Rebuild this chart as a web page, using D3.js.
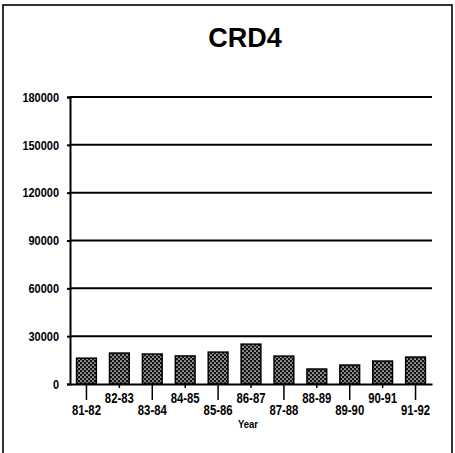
<!DOCTYPE html>
<html><head><meta charset="utf-8">
<script src="https://cdn.jsdelivr.net/npm/d3@7/dist/d3.min.js"></script>
<style>html,body{margin:0;padding:0;background:#fff;}svg{display:block;}</style>
</head><body>
<script>
const title = "CRD4";
const years = ["81-82","82-83","83-84","84-85","85-86","86-87","87-88","88-89","89-90","90-91","91-92"];
const values = [16200,19400,18800,17600,20000,25000,17500,9400,11900,14400,16900];
const yTicks = [0,30000,60000,90000,120000,150000,180000];
const xTitle = "Year";

const W = 455, H = 453;
const svg = d3.select("body").append("svg").attr("width", W).attr("height", H);

const defs = svg.append("defs");
const pat = defs.append("pattern").attr("id","dots").attr("patternUnits","userSpaceOnUse")
  .attr("width",4).attr("height",4);
pat.append("rect").attr("width",4).attr("height",4).attr("fill","#111");
pat.append("circle").attr("cx",1).attr("cy",1).attr("r",0.85).attr("fill","#fff");
pat.append("circle").attr("cx",3).attr("cy",3).attr("r",0.85).attr("fill","#fff");

// outer frame
svg.append("rect").attr("x",3).attr("y",5).attr("width",449).attr("height",470)
  .attr("fill","none").attr("stroke","#000").attr("stroke-width",1.6);

const sans = "'Liberation Sans', Arial, sans-serif";

svg.append("text").attr("x",245).attr("y",47).attr("text-anchor","middle")
  .attr("font-family",sans).attr("font-weight","bold")
  .attr("font-size",27).text(title);

const x0 = 70, x1 = 432, yB = 384, yT = 97;
const x = d3.scaleBand().domain(years).range([x0, x1]).paddingInner(0.4).paddingOuter(0.2);
const y = d3.scaleLinear().domain([0,180000]).range([yB, yT]);

// y axis
const yAxis = d3.axisLeft(y).tickValues(yTicks).tickSize(3).tickPadding(8).tickFormat(d3.format("d"));
const gy = svg.append("g").attr("transform",`translate(${x0},0)`).call(yAxis);
gy.select(".domain").attr("stroke","#000").attr("stroke-width",2);
gy.selectAll(".tick line").attr("stroke","#000").attr("stroke-width",2);
gy.selectAll(".tick text").attr("font-family",sans).attr("font-weight","bold").attr("font-size",13)
  .attr("fill","#000")
  .attr("textLength", d => String(d).length * 6.1).attr("lengthAdjust","spacingAndGlyphs");

// gridlines
svg.append("g").selectAll("line").data(yTicks.filter(d=>d>0)).join("line")
  .attr("x1",x0).attr("x2",x1).attr("y1",d=>y(d)).attr("y2",d=>y(d))
  .attr("stroke","#000").attr("stroke-width",2);

// bars
svg.append("g").selectAll("rect").data(values).join("rect")
  .attr("x",(d,i)=>x(years[i])).attr("width",x.bandwidth())
  .attr("y",d=>y(d)).attr("height",d=>yB-y(d))
  .attr("fill","url(#dots)").attr("stroke","#000").attr("stroke-width",1.5);

// x axis
const xAxis = d3.axisBottom(x).tickSize(0).tickSizeOuter(0);
const gx = svg.append("g").attr("transform",`translate(0,${yB})`).call(xAxis);
gx.select(".domain").attr("stroke","#000").attr("stroke-width",2);
gx.selectAll(".tick").each(function(d,i){
  const g = d3.select(this);
  const low = i % 2 === 0;
  g.select("line").attr("y2", low ? 16 : 4).attr("stroke","#000").attr("stroke-width",1.5);
  g.select("text").attr("y", low ? 20 : 8)
    .attr("font-family",sans).attr("font-weight","bold").attr("font-size",15).attr("fill","#000")
    .attr("textLength",29).attr("lengthAdjust","spacingAndGlyphs");
});

svg.append("text").attr("x",248).attr("y",428).attr("text-anchor","middle")
  .attr("font-family",sans).attr("font-weight","bold").attr("font-size",11)
  .attr("textLength",20).attr("lengthAdjust","spacingAndGlyphs").text(xTitle);
</script>
</body></html>
